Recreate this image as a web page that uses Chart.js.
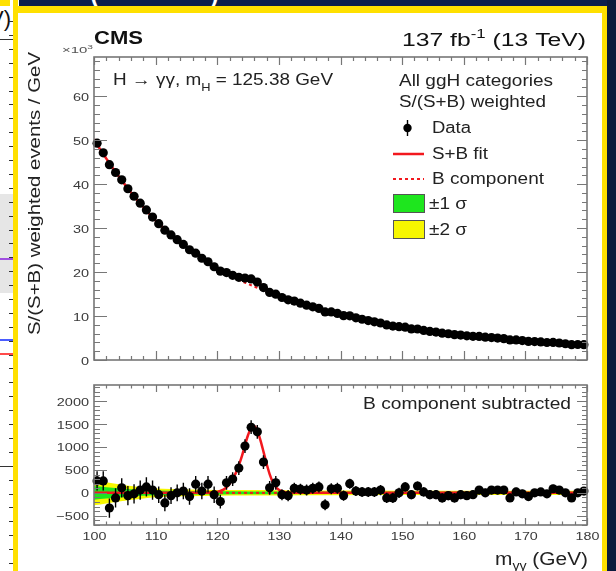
<!DOCTYPE html>
<html>
<head>
<meta charset="utf-8">
<title>H to gamma gamma, S/(S+B) weighted mass spectrum</title>
<script src="https://cdn.jsdelivr.net/npm/chart.js@4.4.1/dist/chart.umd.min.js"></script>
<style>
  body { margin: 0; width: 616px; height: 571px; position: relative; overflow: hidden; background: #fff; }
  .blk { position: absolute; }
  canvas { position: absolute; left: 0; top: 0; }
  #titleBar { overflow: hidden; color: #fff; font: 36px "Liberation Sans", Arial, sans-serif; }
  #titleBar span { position: absolute; top: -30px; }
  #sideText { font: 22px "Liberation Sans", Arial, sans-serif; color: #111; left: -11px; top: 6px; }
</style>
</head>
<body>

<!-- slide frame around the figure -->
<div class="blk" style="left:0;top:0;width:10px;height:6px;background:#ffe000"></div>
<div class="blk" id="titleBar" style="left:19px;top:0;width:597px;height:6px;background:#0c1f4c">
  <span style="left:70px">(</span><span style="left:189px">)</span>
</div>
<div class="blk" style="left:13px;top:6px;width:594px;height:7px;background:#ffe000"></div>
<div class="blk" style="left:13px;top:0;width:5px;height:571px;background:#ffe000"></div>
<div class="blk" style="left:602px;top:6px;width:5px;height:565px;background:#ffe000"></div>
<div class="blk" style="left:607px;top:0;width:9px;height:571px;background:#0b1a3c"></div>

<!-- edge of the neighbouring plot on the slide -->
<div class="blk" id="sideText">V)</div>
<div class="blk" style="left:0;top:39px;width:13px;height:1px;background:#333"></div>
<div class="blk" style="left:0;top:194px;width:13px;height:99px;background:#e6e6e6"></div>
<div class="blk" style="left:0;top:258px;width:13px;height:2px;background:#a04fe0"></div>
<div class="blk" style="left:0;top:339px;width:13px;height:2px;background:#4a5cff"></div>
<div class="blk" style="left:0;top:353px;width:13px;height:2px;background:#ff4a4a"></div>
<div id="sideTicks"></div>

<canvas id="topCanvas" width="616" height="571"></canvas>
<canvas id="botCanvas" width="616" height="571"></canvas>

<script>
// ---- data ----
// bin centres in m_gg (GeV), 1 GeV bins
var massBins = [
  100.5, 101.5, 102.5, 103.5, 104.5, 105.5, 106.5, 107.5, 108.5, 109.5,
  110.5, 111.5, 112.5, 113.5, 114.5, 115.5, 116.5, 117.5, 118.5, 119.5,
  120.5, 121.5, 122.5, 123.5, 124.5, 125.5, 126.5, 127.5, 128.5, 129.5,
  130.5, 131.5, 132.5, 133.5, 134.5, 135.5, 136.5, 137.5, 138.5, 139.5,
  140.5, 141.5, 142.5, 143.5, 144.5, 145.5, 146.5, 147.5, 148.5, 149.5,
  150.5, 151.5, 152.5, 153.5, 154.5, 155.5, 156.5, 157.5, 158.5, 159.5,
  160.5, 161.5, 162.5, 163.5, 164.5, 165.5, 166.5, 167.5, 168.5, 169.5,
  170.5, 171.5, 172.5, 173.5, 174.5, 175.5, 176.5, 177.5, 178.5, 179.5
];

// weighted data, x10^3 events / GeV
var dataWeighted = [
  49.31, 47.11, 44.42, 42.64, 40.96, 38.94, 37.23, 35.66, 34.13, 32.51,
  31.01, 29.53, 28.44, 27.35, 26.29, 25.07, 24.29, 23.14, 22.34, 21.21,
  20.21, 19.87, 19.25, 18.79, 18.62, 18.43, 17.73, 16.47, 15.36, 14.97,
  14.21, 13.69, 13.40, 12.93, 12.46, 12.10, 11.73, 10.94, 10.94, 10.60,
  10.09, 10.05, 9.59, 9.27, 8.97, 8.67, 8.41, 7.97, 7.72, 7.58,
  7.46, 7.06, 7.05, 6.72, 6.49, 6.34, 6.09, 5.97, 5.77, 5.66,
  5.49, 5.39, 5.36, 5.18, 5.11, 4.99, 4.86, 4.57, 4.57, 4.41,
  4.22, 4.20, 4.12, 3.98, 3.99, 3.86, 3.70, 3.49, 3.53, 3.49
];

// data minus B component, events / GeV
var dataSubtracted = [
  260, 260, -330, -110, 110, -60, -20, 60, 130, 60,
  -40, -220, -60, 0, 40, -80, 190, 40, 190, -40,
  -190, 220, 300, 540, 1020, 1430, 1330, 670, 110, 220,
  -40, -60, 100, 80, 60, 100, 130, -260, 90, 100,
  -60, 200, 40, 20, 20, 20, 60, -110, -110, 0,
  130, -40, 150, 20, -40, -40, -110, -60, -110, -40,
  -60, -40, 60, 0, 60, 60, 60, -110, 20, -20,
  -80, 0, 20, -20, 90, 60, 0, -110, 0, 40
];

// statistical error on the subtracted points, per 10 GeV window
var subtractedErr = [210, 180, 150, 120, 110, 100, 90, 85];

// B component of the fit, x10^3 events / GeV
var bkgMass = [
  100, 101, 102, 103, 104, 105, 106, 107, 108, 109,
  110, 111, 112, 113, 114, 115, 116, 117, 118, 119,
  120, 121, 122, 123, 124, 125, 126, 127, 128, 129,
  130, 131, 132, 133, 134, 135, 136, 137, 138, 139,
  140, 141, 142, 143, 144, 145, 146, 147, 148, 149,
  150, 151, 152, 153, 154, 155, 156, 157, 158, 159,
  160, 161, 162, 163, 164, 165, 166, 167, 168, 169,
  170, 171, 172, 173, 174, 175, 176, 177, 178, 179, 180
];
var bkgFit = [
  50.2, 47.9, 45.8, 43.7, 41.8, 39.9, 38.1, 36.4, 34.8, 33.2,
  31.7, 30.4, 29.1, 27.9, 26.8, 25.7, 24.6, 23.6, 22.6, 21.7,
  20.8, 20.0, 19.3, 18.6, 17.9, 17.3, 16.7, 16.1, 15.5, 15.0,
  14.5, 14.0, 13.5, 13.1, 12.6, 12.2, 11.8, 11.4, 11.0, 10.7,
  10.3, 10.0, 9.7, 9.4, 9.1, 8.8, 8.5, 8.2, 7.95, 7.7,
  7.45, 7.2, 7.0, 6.8, 6.6, 6.45, 6.3, 6.1, 5.95, 5.8,
  5.6, 5.5, 5.35, 5.25, 5.1, 5.0, 4.85, 4.75, 4.6, 4.5,
  4.35, 4.25, 4.15, 4.05, 3.95, 3.85, 3.75, 3.65, 3.55, 3.5, 3.4
];

// S+B fit around the peak, x10^3 events / GeV (equals B elsewhere)
var peakMass = [118, 119, 120, 120.5, 121, 121.5, 122, 122.5, 123, 123.5, 124, 124.5, 125,
                125.5, 126, 126.5, 127, 127.5, 128, 128.5, 129, 129.5, 130, 130.5, 131, 132];
var peakFit = [22.60, 21.71, 20.82, 20.44, 20.07, 19.77, 19.50, 19.25, 19.03, 18.85, 18.70, 18.64, 18.56,
               18.42, 18.15, 17.76, 17.25, 16.70, 16.14, 15.66, 15.24, 14.88, 14.57, 14.29, 14.02, 13.50];

// S+B fit with B subtracted, events / GeV
var sigMass = [100, 117, 118, 119, 120, 120.5, 121, 121.5, 122, 122.5, 123, 123.5, 124, 124.5, 125,
               125.5, 126, 126.5, 127, 127.5, 128, 128.5, 129, 129.5, 130, 130.5, 131, 132, 133, 180];
var sigFit = [0, 0, 3, 8, 20, 40, 70, 120, 200, 300, 430, 600, 800, 1040, 1260,
              1420, 1450, 1360, 1150, 900, 640, 410, 240, 130, 70, 35, 15, 5, 0, 0];

// B component after subtraction
var bkgSubMass = [100, 180];
var bkgSubFit = [0, 0];

// half widths of the 1 and 2 sigma bands on the B component
var bandMass = [100, 102, 104, 106, 108, 110, 115, 120, 125, 130, 140, 150, 160, 170, 180];
var band1Sigma = [150, 125, 100, 80, 65, 50, 40, 34, 31, 28, 26, 25, 24, 23, 23];
var band2Sigma = [270, 230, 190, 150, 120, 95, 75, 65, 60, 55, 50, 48, 46, 45, 45];

// axis ticks
var massTicks = [100, 110, 120, 130, 140, 150, 160, 170, 180];
var massTickLabels = ['100', '110', '120', '130', '140', '150', '160', '170', '180'];
var topYTicks = [0, 10, 20, 30, 40, 50, 60];
var topYTickLabels = ['0', '10', '20', '30', '40', '50', '60'];
var botYTicks = [-500, 0, 500, 1000, 1500, 2000];
var botYTickLabels = ['\u2212500', '0', '500', '1000', '1500', '2000'];

// ---- styling ----
var FONT = '"Liberation Sans", Arial, Helvetica, sans-serif';
var AXIS = '#777777';
var LABEL = '#3a3a3a';
var RED = '#f2181e';
var GREEN = '#1ee61e';
var YELLOW = '#f7f700';

function xy(xs, ys) {
  return xs.map(function(x, i) { return { x: x, y: ys[i] }; });
}

function segFont(seg, size, bold) {
  var s = (seg.sup || seg.sub) ? size * 0.68 : size;
  return (bold ? 'bold ' : '') + s + 'px ' + FONT;
}

// text with optional super/subscripts, stretched horizontally to a given width
function drawRich(ctx, segs, x, y, o) {
  ctx.save();
  var w = 0;
  segs.forEach(function(s) { ctx.font = segFont(s, o.size, o.bold); w += ctx.measureText(s.t).width; });
  var sx = o.width ? o.width / w : (o.sx || 1);
  ctx.translate(x, y);
  if (o.rotate) ctx.rotate(o.rotate);
  ctx.scale(sx, 1);
  var cx = o.align === 'right' ? -w : (o.align === 'center' ? -w / 2 : 0);
  ctx.fillStyle = o.color || '#111';
  ctx.textAlign = 'left';
  ctx.textBaseline = 'alphabetic';
  segs.forEach(function(s) {
    ctx.font = segFont(s, o.size, o.bold);
    var dy = s.sup ? -o.size * 0.42 : (s.sub ? o.size * (s.dy || 0.34) : 0);
    ctx.fillText(s.t, cx, dy);
    cx += ctx.measureText(s.t).width;
  });
  ctx.restore();
}

function text(ctx, str, x, y, o) {
  drawRich(ctx, [{ t: str }], x, y, o);
}

// frame with inward major/minor ticks on all four sides
function drawFrame(chart, t) {
  var ctx = chart.ctx, a = chart.chartArea;
  var xs = chart.scales.x, ys = chart.scales.y;
  ctx.save();
  ctx.strokeStyle = AXIS;
  ctx.lineWidth = 1.2;
  ctx.beginPath();
  var v, px, major;
  for (v = Math.ceil(xs.min / 2) * 2; v <= xs.max; v += 2) {
    px = Math.round(xs.getPixelForValue(v)) + 0.5;
    major = massTicks.indexOf(v) >= 0;
    ctx.moveTo(px, a.bottom); ctx.lineTo(px, a.bottom - (major ? t.bottom[0] : t.bottom[1]));
    ctx.moveTo(px, a.top); ctx.lineTo(px, a.top + (major ? t.top[0] : t.top[1]));
  }
  for (v = Math.ceil(ys.min / t.yMinor) * t.yMinor; v <= ys.max; v += t.yMinor) {
    px = Math.round(ys.getPixelForValue(v)) + 0.5;
    major = t.yMajor.indexOf(v) >= 0;
    ctx.moveTo(a.left, px); ctx.lineTo(a.left + (major ? t.left[0] : t.left[1]), px);
    ctx.moveTo(a.right, px); ctx.lineTo(a.right - (major ? t.right[0] : t.right[1]), px);
  }
  ctx.stroke();
  ctx.lineWidth = 1.6;
  ctx.strokeRect(a.left, a.top, a.right - a.left, a.bottom - a.top);
  ctx.restore();

  t.yMajor.forEach(function(val, i) {
    text(ctx, t.yLabels[i], a.left - 5, ys.getPixelForValue(val) + 4.5,
         { size: 11.5, sx: 1.26, align: 'right', color: LABEL });
  });
  if (t.xLabels) {
    massTicks.forEach(function(val, i) {
      text(ctx, t.xLabels[i], xs.getPixelForValue(val) + 0.5, a.bottom + 15,
           { size: 11.5, sx: 1.24, align: 'center', color: LABEL });
    });
  }
}

function drawErrorBars(chart, xsArr, ysArr, errFor) {
  var ctx = chart.ctx, xs = chart.scales.x, ys = chart.scales.y;
  ctx.save();
  ctx.strokeStyle = '#000';
  ctx.lineWidth = 1.4;
  ctx.beginPath();
  xsArr.forEach(function(m, i) {
    var e = errFor(m);
    var px = xs.getPixelForValue(m);
    ctx.moveTo(px, ys.getPixelForValue(ysArr[i] - e));
    ctx.lineTo(px, ys.getPixelForValue(ysArr[i] + e));
  });
  ctx.stroke();
  ctx.restore();
}

function errSub(m) {
  return subtractedErr[Math.min(subtractedErr.length - 1, Math.floor((m - 100) / 10))];
}

var baseOptions = function(padding, yMin, yMax) {
  return {
    responsive: false,
    animation: false,
    devicePixelRatio: 1,
    events: [],
    layout: { padding: padding },
    plugins: { legend: { display: false }, tooltip: { enabled: false } },
    scales: {
      x: { type: 'linear', min: 100, max: 180, display: false },
      y: { type: 'linear', min: yMin, max: yMax, display: false }
    }
  };
};

// ---- upper panel: weighted spectrum with S+B fit ----
var sbFitTop = xy(bkgMass, bkgFit).filter(function(p) { return p.x < 118 || p.x > 132; })
  .concat(xy(peakMass, peakFit))
  .sort(function(p, q) { return p.x - q.x; });

var topDecor = {
  id: 'topDecor',
  afterDraw: function(chart) {
    var ctx = chart.ctx;
    drawFrame(chart, {
      yMajor: topYTicks, yLabels: topYTickLabels, yMinor: 2,
      left: [13, 6], right: [10, 5], top: [8, 4], bottom: [9, 4]
    });

    drawRich(ctx, [{ t: '\u00d710' }, { t: '3', sup: true }], 62, 53, { size: 9, width: 31, color: '#555' });
    text(ctx, 'CMS', 94, 44, { size: 18.5, bold: true, width: 49, color: '#111' });
    drawRich(ctx, [{ t: '137 fb' }, { t: '-1', sup: true }, { t: ' (13 TeV)' }], 586, 46,
             { size: 18, width: 184, align: 'right', color: '#111' });
    drawRich(ctx, [{ t: 'H \u2192 \u03b3\u03b3, m' }, { t: 'H', sub: true, dy: 0.4 }, { t: ' = 125.38 GeV' }], 113, 85,
             { size: 16, width: 220, color: '#222' });
    text(ctx, 'All ggH categories', 399, 86, { size: 16, width: 154, color: '#222' });
    text(ctx, 'S/(S+B) weighted', 399, 107, { size: 16, width: 147, color: '#222' });

    // legend entries
    ctx.save();
    ctx.strokeStyle = '#000'; ctx.lineWidth = 1.4;
    ctx.beginPath(); ctx.moveTo(407.5, 120); ctx.lineTo(407.5, 136); ctx.stroke();
    ctx.fillStyle = '#000';
    ctx.beginPath(); ctx.arc(407.5, 128, 4.2, 0, Math.PI * 2); ctx.fill();
    ctx.strokeStyle = RED; ctx.lineWidth = 2.5;
    ctx.beginPath(); ctx.moveTo(393, 154); ctx.lineTo(424, 154); ctx.stroke();
    ctx.lineWidth = 2; ctx.setLineDash([3, 3]);
    ctx.beginPath(); ctx.moveTo(393, 179); ctx.lineTo(424, 179); ctx.stroke();
    ctx.setLineDash([]);
    ctx.lineWidth = 1; ctx.strokeStyle = '#555';
    ctx.fillStyle = GREEN; ctx.fillRect(393, 194, 31, 18); ctx.strokeRect(393.5, 194.5, 31, 18);
    ctx.fillStyle = YELLOW; ctx.fillRect(393, 220, 31, 18); ctx.strokeRect(393.5, 220.5, 31, 18);
    ctx.restore();
    text(ctx, 'Data', 432, 133, { size: 16, width: 39, color: '#222' });
    text(ctx, 'S+B fit', 432, 159, { size: 16, width: 56, color: '#222' });
    text(ctx, 'B component', 432, 184, { size: 16, width: 112, color: '#222' });
    text(ctx, '\u00b11 \u03c3', 429, 209, { size: 16, width: 38, color: '#222' });
    text(ctx, '\u00b12 \u03c3', 429, 235, { size: 16, width: 38, color: '#222' });

    // y axis title
    text(ctx, 'S/(S+B) weighted events / GeV', 39.5, 193.5,
         { size: 17, width: 283, align: 'center', rotate: -Math.PI / 2, color: '#222' });
  }
};

new Chart(document.getElementById('topCanvas'), {
  type: 'scatter',
  data: {
    datasets: [
      { type: 'line', data: sbFitTop, borderColor: RED, borderWidth: 2.5, pointRadius: 0,
        tension: 0.4, cubicInterpolationMode: 'monotone', fill: false, order: 3 },
      { type: 'line', data: xy(bkgMass, bkgFit), borderColor: RED, borderWidth: 2, borderDash: [3, 3],
        pointRadius: 0, tension: 0.4, cubicInterpolationMode: 'monotone', fill: false, order: 2 },
      { data: xy(massBins, dataWeighted), backgroundColor: '#000', borderColor: '#000', borderWidth: 0,
        pointRadius: 4.6, clip: false, order: 1 }
    ]
  },
  options: baseOptions({ left: 94, right: 29, top: 57, bottom: 211 }, 0, 68.9),
  plugins: [topDecor]
});

// ---- lower panel: B component subtracted ----
var botDecor = {
  id: 'botDecor',
  beforeDatasetDraw: function(chart, args) {
    if (args.index === 6) drawErrorBars(chart, massBins, dataSubtracted, errSub);
  },
  afterDraw: function(chart) {
    var ctx = chart.ctx;
    drawFrame(chart, {
      yMajor: botYTicks, yLabels: botYTickLabels, yMinor: 100, xLabels: massTickLabels,
      left: [13, 6], right: [10, 5], top: [7, 3.5], bottom: [7, 3.5]
    });
    text(ctx, 'B component subtracted', 571, 409, { size: 16, width: 208, align: 'right', color: '#222' });
    drawRich(ctx, [{ t: 'm' }, { t: '\u03b3\u03b3', sub: true, dy: 0.3 }, { t: ' (GeV)' }], 588, 565,
             { size: 17.5, width: 93, align: 'right', color: '#222' });
  }
};

var negate = function(arr) { return arr.map(function(v) { return -v; }); };

new Chart(document.getElementById('botCanvas'), {
  type: 'scatter',
  data: {
    datasets: [
      { type: 'line', data: xy(bandMass, band2Sigma), borderWidth: 0, pointRadius: 0, tension: 0.4,
        cubicInterpolationMode: 'monotone', backgroundColor: YELLOW, fill: '+1', order: 6 },
      { type: 'line', data: xy(bandMass, negate(band2Sigma)), borderWidth: 0, pointRadius: 0, tension: 0.4,
        cubicInterpolationMode: 'monotone', fill: false, order: 6 },
      { type: 'line', data: xy(bandMass, band1Sigma), borderWidth: 0, pointRadius: 0, tension: 0.4,
        cubicInterpolationMode: 'monotone', backgroundColor: GREEN, fill: '+1', order: 5 },
      { type: 'line', data: xy(bandMass, negate(band1Sigma)), borderWidth: 0, pointRadius: 0, tension: 0.4,
        cubicInterpolationMode: 'monotone', fill: false, order: 5 },
      { type: 'line', data: xy(bkgSubMass, bkgSubFit), borderColor: RED, borderWidth: 2, borderDash: [3, 3],
        pointRadius: 0, fill: false, order: 3 },
      { type: 'line', data: xy(sigMass, sigFit), borderColor: RED, borderWidth: 2.5, pointRadius: 0,
        tension: 0.4, cubicInterpolationMode: 'monotone', fill: false, order: 2 },
      { data: xy(massBins, dataSubtracted), backgroundColor: '#000', borderColor: '#000', borderWidth: 0,
        pointRadius: 4.6, clip: false, order: 1 }
    ]
  },
  options: baseOptions({ left: 94, right: 29, top: 385, bottom: 46 }, -700, 2350),
  plugins: [botDecor]
});

// ticks along the edge of the neighbouring plot
(function() {
  var holder = document.getElementById('sideTicks');
  var html = '';
  for (var y = 21; y < 565; y += 13.9) {
    var r = Math.round(y);
    var left = (r === 57 || r === 466) ? (r === 466 ? 0 : 4) : 9;
    html += '<div class="blk" style="left:' + left + 'px;top:' + r + 'px;width:' + (13 - left) +
            'px;height:1px;background:#333"></div>';
  }
  holder.innerHTML = html;
})();
</script>
</body>
</html>
